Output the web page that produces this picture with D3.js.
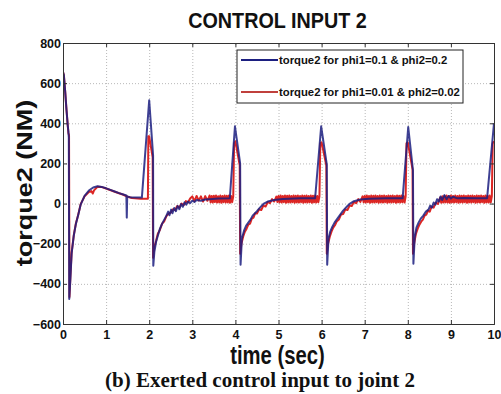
<!DOCTYPE html>
<html>
<head>
<meta charset="utf-8">
<script src="https://cdn.jsdelivr.net/npm/d3@7"></script>
<style>
  html, body { margin: 0; padding: 0; background: #fff; }
  svg { display: block; }
  text { font-weight: bold; fill: #111; }
</style>
</head>
<body>
<svg id="chart" width="501" height="394"></svg>
<script>
// Axis ticks
const timeTicks = [0, 1, 2, 3, 4, 5, 6, 7, 8, 9, 10];
const torqueTicks = [-600, -400, -200, 0, 200, 400, 600, 800];

// Legend entries
const seriesNames = ["torque2 for phi1=0.1 & phi2=0.2", "torque2 for phi1=0.01 & phi2=0.02"];

// torque2 [time (s), torque (NM)] for phi1=0.1 & phi2=0.2
const torqueBlue = [
  [0.00,655],[0.02,640],[0.05,560],[0.08,470],[0.11,390],[0.125,360],[0.135,330],[0.145,-475],
  [0.17,-380],[0.20,-250],[0.25,-160],[0.30,-100],[0.35,-60],[0.41,-5],[0.50,38],[0.60,65],
  [0.70,80],[0.80,86],[0.90,83],[1.00,76],[1.10,68],[1.20,60],[1.30,52],[1.40,45],[1.47,40],
  [1.48,-70],[1.49,36],[1.55,32],[1.70,30],[1.83,30],
  [2.00,515],[2.09,240],[2.095,-310],[2.12,-240],[2.16,-190],[2.20,-160],[2.25,-125],[2.30,-100],
  [2.35,-80],[2.40,-60],[2.44,-40],[2.47,-58],[2.51,-30],[2.54,-48],[2.58,-22],[2.62,-38],
  [2.66,-12],[2.70,-28],[2.74,-2],[2.78,-16],[2.82,6],[2.86,-6],[2.90,10],[2.95,2],[3.00,15],
  [3.05,8],[3.10,18],[3.20,14],[3.30,20],[3.40,22],[3.60,25],[3.87,26],
  [3.99,385],[4.11,200],[4.12,-305],[4.15,-175],[4.20,-135],[4.25,-110],[4.30,-95],[4.35,-80],
  [4.40,-60],[4.50,-38],[4.57,-20],[4.65,-2],[4.75,10],[4.90,18],[5.10,23],[5.50,26],[5.85,27],
  [5.99,385],[6.12,195],[6.13,-305],[6.16,-175],[6.20,-140],[6.25,-115],[6.30,-95],[6.40,-65],
  [6.50,-35],[6.60,-12],[6.66,0],[6.75,12],[6.90,20],[7.10,24],[7.50,26],[7.88,26],
  [8.01,381],[8.12,165],[8.13,-300],[8.16,-170],[8.20,-120],[8.25,-95],[8.30,-75],[8.36,-60],
  [8.42,-40],[8.48,-30],[8.52,-10],[8.56,-20],[8.60,5],[8.64,-5],[8.68,22],[8.72,10],[8.76,35],
  [8.80,18],[8.85,42],[8.90,22],[8.95,38],[9.00,25],[9.05,34],[9.15,26],[9.30,28],[9.60,26],
  [9.84,27],[10.00,400]
];

// torque2 [time (s), torque (NM)] for phi1=0.01 & phi2=0.02
const torqueRed = [
  [0.00,655],[0.02,640],[0.05,560],[0.08,470],[0.11,390],[0.125,352],[0.14,340],[0.15,-465],
  [0.17,-370],[0.20,-245],[0.25,-158],[0.30,-98],[0.35,-58],[0.41,-3],[0.50,36],[0.60,58],
  [0.66,62],[0.69,50],[0.72,66],[0.80,84],[0.90,82],[1.00,75],[1.20,59],[1.40,44],[1.50,34],
  [1.60,28],[1.80,24],[1.97,24],
  [1.98,335],[2.00,335],[2.08,230],[2.09,-270],[2.12,-215],[2.16,-185],[2.20,-150],[2.25,-130],
  [2.30,-100],[2.35,-88],[2.40,-62],[2.45,-50],[2.50,-45],[2.55,-28],[2.60,-33],[2.65,-12],
  [2.70,-20],[2.75,0],[2.80,-8],[2.85,12],[2.90,5],[2.95,25],
  [3.00,36],[3.05,12],[3.10,38],[3.15,15],[3.20,36],[3.25,10],[3.30,37],[3.35,14],
  [3.400,40],[3.425,6],[3.450,38],[3.475,5],[3.500,39],[3.525,8],[3.550,40],[3.575,5],
  [3.600,37],[3.625,6],[3.650,40],[3.675,4],[3.700,38],[3.725,7],[3.750,40],[3.775,5],
  [3.800,39],[3.825,6],[3.850,40],[3.875,4],[3.900,38],[3.925,7],[3.950,36],
  [3.97,300],[4.00,310],[4.10,190],[4.11,-250],[4.14,-200],[4.18,-165],[4.22,-140],[4.26,-125],
  [4.30,-105],[4.34,-100],[4.38,-75],[4.42,-70],[4.46,-48],[4.50,-50],[4.55,-28],[4.60,-32],
  [4.65,-10],[4.70,-15],[4.75,8],[4.80,2],[4.85,22],[4.90,10],
  [4.950,35],[4.975,8],[5.000,38],[5.025,6],[5.050,40],[5.075,5],[5.100,38],[5.125,7],
  [5.150,40],[5.175,4],[5.200,39],[5.225,6],[5.250,40],[5.275,5],[5.300,38],[5.325,7],
  [5.350,40],[5.375,4],[5.400,39],[5.425,6],[5.450,40],[5.475,5],[5.500,38],[5.525,7],
  [5.550,40],[5.575,4],[5.600,39],[5.625,6],[5.650,40],[5.675,5],[5.700,38],[5.725,7],
  [5.750,40],[5.775,4],[5.800,39],[5.825,6],[5.850,40],[5.875,5],[5.900,38],[5.925,7],
  [5.950,36],
  [5.97,300],[6.00,305],[6.11,190],[6.12,-250],[6.15,-200],[6.19,-165],[6.23,-140],[6.27,-120],
  [6.31,-108],[6.35,-90],[6.40,-80],[6.45,-55],[6.50,-52],[6.55,-30],[6.60,-32],[6.65,-10],
  [6.70,-12],[6.75,8],[6.80,2],[6.85,22],[6.90,8],
  [6.950,36],[6.975,6],[7.000,38],[7.025,5],[7.050,40],[7.075,7],[7.100,38],[7.125,4],
  [7.150,40],[7.175,6],[7.200,39],[7.225,5],[7.250,40],[7.275,7],[7.300,38],[7.325,4],
  [7.350,40],[7.375,6],[7.400,39],[7.425,5],[7.450,40],[7.475,7],[7.500,38],[7.525,4],
  [7.550,40],[7.575,6],[7.600,39],[7.625,5],[7.650,40],[7.675,7],[7.700,38],[7.725,4],
  [7.750,40],[7.775,6],[7.800,39],[7.825,5],[7.850,40],[7.875,7],[7.900,38],[7.925,5],
  [7.950,36],
  [7.97,300],[8.00,305],[8.11,170],[8.12,-250],[8.15,-195],[8.19,-150],[8.23,-125],[8.27,-105],
  [8.31,-90],[8.35,-80],[8.39,-60],[8.43,-55],[8.47,-35],[8.51,-40],[8.55,-15],[8.60,-20],
  [8.65,5],[8.70,-2],
  [8.750,30],[8.775,4],[8.800,36],[8.825,5],[8.850,38],[8.875,6],[8.900,40],[8.925,5],
  [8.950,38],[8.975,4],[9.000,40],[9.025,6],[9.050,38],[9.075,5],[9.100,40],[9.125,7],
  [9.150,38],[9.175,4],[9.200,40],[9.225,6],[9.250,39],[9.275,5],[9.300,40],[9.325,7],
  [9.350,38],[9.375,4],[9.400,40],[9.425,6],[9.450,39],[9.475,5],[9.500,40],[9.525,7],
  [9.550,38],[9.575,4],[9.600,40],[9.625,6],[9.650,39],[9.675,5],[9.700,40],[9.725,7],
  [9.750,38],[9.775,4],[9.800,40],[9.825,6],[9.850,39],[9.875,5],[9.900,40],[9.925,6],
  [9.950,36],
  [9.97,300],[10.00,310]
];

const svg = d3.select("#chart");
const plot = { left: 63, right: 494, top: 43, bottom: 324 };
const sans = "'Liberation Sans', Arial, sans-serif";
const serif = "'Liberation Serif', 'Times New Roman', serif";

const x = d3.scaleLinear().domain([0, 10]).range([plot.left, plot.right]);
const y = d3.scaleLinear().domain([-600, 800]).range([plot.bottom, plot.top]);

// Dotted grid
const grid = svg.append("g").attr("class", "grid");
grid.append("g")
  .attr("transform", `translate(0,${plot.bottom})`)
  .call(d3.axisBottom(x).tickValues(timeTicks).tickSize(-(plot.bottom - plot.top)).tickFormat(""))
  .call(g => g.select(".domain").remove());
grid.append("g")
  .attr("transform", `translate(${plot.left},0)`)
  .call(d3.axisLeft(y).tickValues(torqueTicks).tickSize(-(plot.right - plot.left)).tickFormat(""))
  .call(g => g.select(".domain").remove());
grid.selectAll("line")
  .attr("stroke", "#b8b8b8")
  .attr("stroke-width", 1)
  .attr("stroke-dasharray", "1,2");

// Data lines
svg.append("clipPath").attr("id", "plot-clip")
  .append("rect")
  .attr("x", plot.left).attr("y", plot.top)
  .attr("width", plot.right - plot.left).attr("height", plot.bottom - plot.top);

const line = d3.line().x(d => x(d[0])).y(d => y(d[1]));
const lines = svg.append("g").attr("clip-path", "url(#plot-clip)");
lines.append("path")
  .datum(torqueRed)
  .attr("d", line)
  .attr("fill", "none")
  .attr("stroke", "#dc2624")
  .attr("stroke-width", 2)
  .attr("stroke-linejoin", "round");
lines.append("path")
  .datum(torqueBlue)
  .attr("d", line)
  .attr("fill", "none")
  .attr("stroke", "#1c1f80")
  .attr("stroke-opacity", 0.85)
  .attr("stroke-width", 2)
  .attr("stroke-linejoin", "round");

// Axes with inward ticks
const xAxis = svg.append("g")
  .attr("transform", `translate(0,${plot.bottom})`)
  .call(d3.axisBottom(x).tickValues(timeTicks).tickSize(-4).tickPadding(6));
const xAxisTop = svg.append("g")
  .attr("transform", `translate(0,${plot.top})`)
  .call(d3.axisTop(x).tickValues(timeTicks).tickSize(-4).tickFormat(""));
const yAxis = svg.append("g")
  .attr("transform", `translate(${plot.left},0)`)
  .call(d3.axisLeft(y).tickValues(torqueTicks).tickSize(-4).tickPadding(2));
const yAxisRight = svg.append("g")
  .attr("transform", `translate(${plot.right},0)`)
  .call(d3.axisRight(y).tickValues(torqueTicks).tickSize(-4).tickFormat(""));

[xAxis, xAxisTop, yAxis, yAxisRight].forEach(g => {
  g.select(".domain").attr("stroke", "#333").attr("stroke-width", 1);
  g.selectAll(".tick line").attr("stroke", "#333");
  g.selectAll("text")
    .style("font-family", sans)
    .style("font-weight", "bold")
    .attr("font-size", 12.5)
    .attr("fill", "#111");
});

// Legend
const legend = svg.append("g");
legend.append("rect")
  .attr("x", 237).attr("y", 50).attr("width", 226).attr("height", 53)
  .attr("fill", "#fff").attr("stroke", "#222").attr("stroke-width", 1);
const legendColors = ["#1c1f80", "#c0403c"];
seriesNames.forEach((name, i) => {
  const ly = 60 + i * 32;
  legend.append("line")
    .attr("x1", 241).attr("x2", 278).attr("y1", ly).attr("y2", ly)
    .attr("stroke", legendColors[i]).attr("stroke-width", 2);
  legend.append("text")
    .attr("x", 279).attr("y", ly + 4)
    .style("font-family", sans)
    .attr("font-size", 11.3)
    .text(name);
});

// Title, axis labels, caption
svg.append("text")
  .attr("transform", "translate(277.5,27.5) scale(0.92,1)")
  .attr("text-anchor", "middle")
  .style("font-family", sans)
  .attr("font-size", 21.5)
  .text("CONTROL INPUT 2");

svg.append("text")
  .attr("transform", "translate(277.5,364) scale(0.78,1)")
  .attr("text-anchor", "middle")
  .style("font-family", sans)
  .attr("font-size", 26)
  .text("time (sec)");

svg.append("text")
  .attr("transform", "translate(32,183) rotate(-90) scale(1,0.8)")
  .attr("text-anchor", "middle")
  .style("font-family", sans)
  .attr("font-size", 27)
  .text("torque2 (NM)");

svg.append("text")
  .attr("x", 260).attr("y", 387)
  .attr("text-anchor", "middle")
  .style("font-family", serif)
  .attr("font-size", 21)
  .text("(b) Exerted control input to joint 2");
</script>
</body>
</html>
